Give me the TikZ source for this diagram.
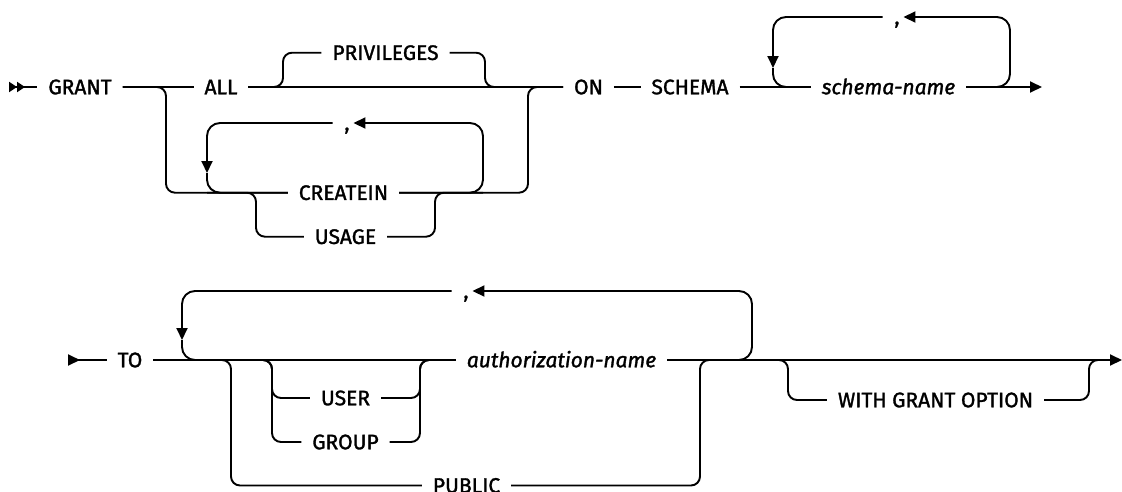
\documentclass[tikz,border=0pt]{standalone}
\usepackage{fontspec}
\setmainfont{Fira Sans}[FakeBold=1.5]
\usetikzlibrary{arrows.meta}

\begin{document}
\begin{tikzpicture}[
  x=1pt, y=-1pt,
  line width=1.9pt,
  font=\fontsize{21}{24}\selectfont,
  >={Triangle[length=12pt,width=11pt]},
  term/.style={inner xsep=10pt, inner ysep=0pt, text height=14.5pt, text depth=0pt},
  var/.style={term, font=\fontsize{21}{24}\selectfont\itshape},
  sep/.style={term, inner xsep=3pt},
  branch/.style={rounded corners=9pt},
  loop/.style={rounded corners=13pt},
]
\useasboundingbox (0,0) rectangle (1122,491);

% ---- row 1: terms ----
\coordinate (st1) at (9,87);
\node[term] (grant) at (80,87) {GRANT};
\node[term] (all) at (221,87) {ALL};
\node[term] (priv) at (385.5,52.7) {PRIVILEGES};
\node[term] (createin) at (343.5,192.7) {CREATEIN};
\node[term] (usage) at (345.5,236.7) {USAGE};
\node[sep] (c2) at (343,123) {\hspace*{8pt},};
\node[term] (on) at (588.5,87) {ON};
\node[term] (schema) at (690,87) {SCHEMA};
\node[var] (sname) at (888.5,87) {schema-name};
\node[sep] (c1) at (893,17) {\hspace*{8pt},};
\coordinate (end1) at (1042,87);

% ---- row 1: branch points ----
\coordinate (b1) at (166,87);
\coordinate (p1) at (283,87);
\coordinate (p2) at (485,87);
\coordinate (m1) at (528,87);
\coordinate (d2) at (207,173);
\coordinate (r1) at (483,123);
\coordinate (u1) at (256,192.7);
\coordinate (u2) at (435,192.7);
\coordinate (d1) at (773,68);
\coordinate (r2) at (1010,17);

% ---- row 1: main line ----
\draw[{Triangle[reversed,length=8pt,width=10pt]Triangle[reversed,length=8pt,width=10pt]}-] (st1) -- (grant.west);
\draw (grant.east) -- (all.west);
\draw (all.east) -- (on.west);
\draw (on.east) -- (schema.west);
\draw (schema.east) -- (sname.west);
\draw[->] (sname.east) -- (end1);

% ---- row 1: PRIVILEGES ----
\draw[branch] (all.east) -- (p1) -- (p1 |- priv) -- (priv.west);
\draw[branch] (priv.east) -- (p2 |- priv) -- (p2) -- (on.west);

% ---- row 1: CREATEIN / USAGE ----
\draw[branch] (grant.east) -- (b1) -- (b1 |- createin) -- (createin.west);
\draw[branch] (createin.east) -- (m1 |- createin) -- (m1) -- (on.west);
\draw[branch] (d2 |- createin) -- (u1) -- (u1 |- usage) -- (usage.west);
\draw[branch] (usage.east) -- (u2 |- usage) -- (u2) -- (r1 |- createin);
\draw[loop,->] (createin.east) -- (r1 |- createin) -- (r1) -- (c2.east);
\draw[loop,->] (c2.west) -- (d2 |- c2) -- (d2);
\draw[loop] (d2) -- (d2 |- createin) -- (createin.west);

% ---- row 1: schema-name repeat ----
\draw[loop,->] (sname.east) -- (r2 |- sname) -- (r2) -- (c1.east);
\draw[loop,->] (c1.west) -- (d1 |- c1) -- (d1);
\draw[loop] (d1) -- (d1 |- sname) -- (sname.west);

% ---- row 2: terms ----
\coordinate (st2) at (68,360);
\node[term] (to) at (130,360) {TO};
\node[var] (aname) at (561.5,360) {authorization-name};
\node[sep] (c3) at (462,291) {\hspace*{8pt},};
\node[term] (user) at (345.5,398) {USER};
\node[term] (group) at (345.5,442) {GROUP};
\node[term] (public) at (466.5,485.5) {PUBLIC};
\node[term] (wgo) at (935.5,400) {WITH GRANT OPTION};
\coordinate (end2) at (1122,360);

% ---- row 2: branch points ----
\coordinate (d3) at (182,340);
\coordinate (r3) at (752,291);
\coordinate (q1) at (231,360);
\coordinate (q2) at (700,360);
\coordinate (g1) at (272,360);
\coordinate (g2) at (420,360);
\coordinate (w1) at (788,360);
\coordinate (w2) at (1089,360);
\coordinate (e2) at (1100,360);

% ---- row 2: main line ----
\draw[{Triangle[reversed,length=12pt,width=11pt]}-] (st2) -- (to.west);
\draw (to.east) -- (aname.west);
\draw[->] (aname.east) -- (end2);

% ---- row 2: authorization-name repeat ----
\draw[loop,->] (aname.east) -- (r3 |- aname) -- (r3) -- (c3.east);
\draw[loop,->] (c3.west) -- (d3 |- c3) -- (d3);
\draw[loop] (d3) -- (d3 |- to) -- (aname.west);

% ---- row 2: PUBLIC ----
\draw[branch] (d3 |- to) -- (q1) -- (q1 |- public) -- (public.west);
\draw[branch] (public.east) -- (q2 |- public) -- (q2) -- (r3 |- aname);

% ---- row 2: USER / GROUP ----
\draw[branch] (q1) -- (g1) -- (g1 |- user) -- (user.west);
\draw[branch] (q1) -- (g1) -- (g1 |- group) -- (group.west);
\draw[branch] (user.east) -- (g2 |- user) -- (g2) -- (aname.west);
\draw[branch] (group.east) -- (g2 |- group) -- (g2) -- (aname.west);

% ---- row 2: WITH GRANT OPTION ----
\draw[branch] (aname.east) -- (w1) -- (w1 |- wgo) -- (wgo.west);
\draw[branch] (wgo.east) -- (w2 |- wgo) -- (w2) -- (e2);

\end{tikzpicture}
\end{document}
